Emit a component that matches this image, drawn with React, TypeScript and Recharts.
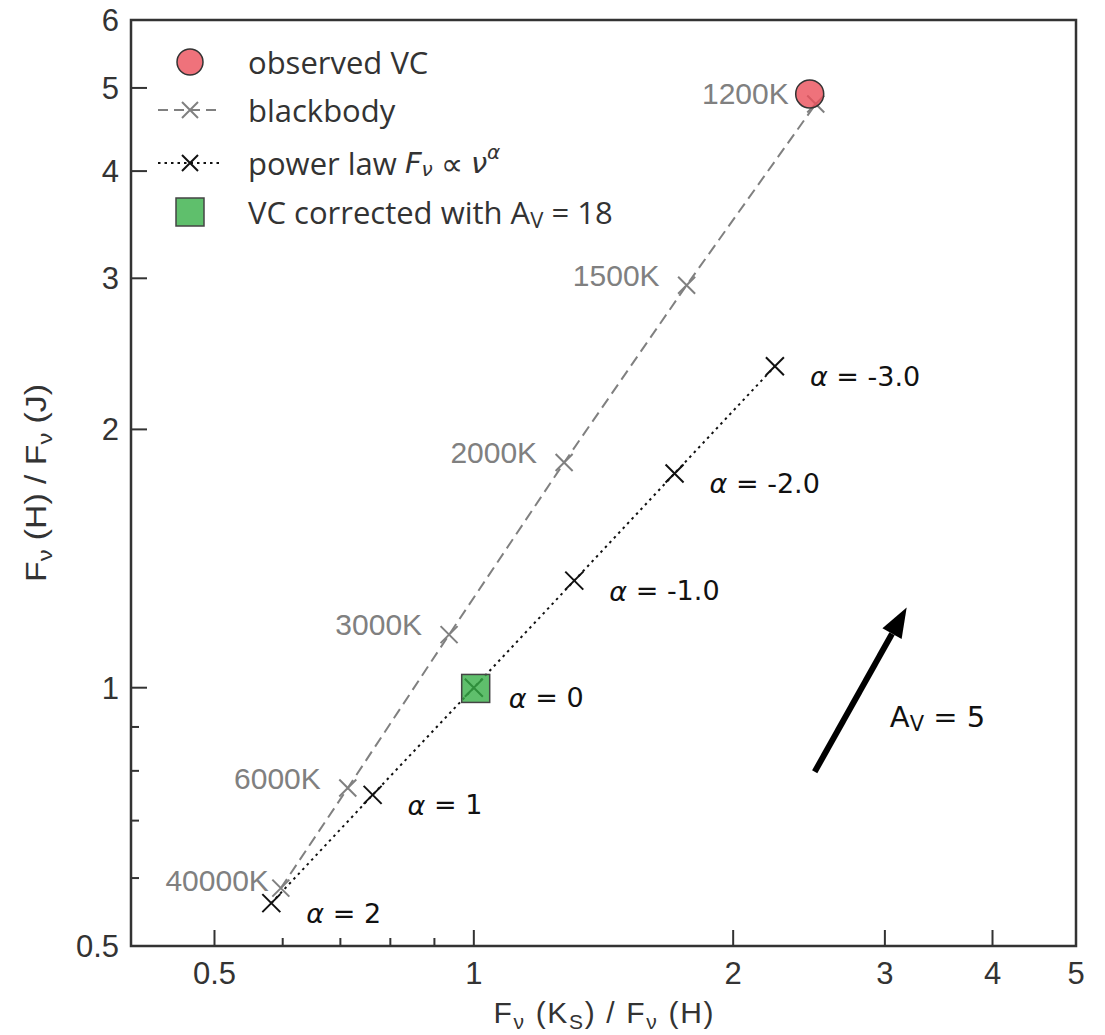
import React from "react";
import {
  ScatterChart,
  Scatter,
  XAxis,
  YAxis,
  ReferenceArea,
  ReferenceLine,
  ReferenceDot,
  Legend,
  Label,
} from "recharts";

// blackbody colours: Ks/H against H/J
const bbLabels = ["40000K", "6000K", "3000K", "2000K", "1500K", "1200K"];
const bbKsH = [0.597, 0.714, 0.936, 1.273, 1.766, 2.494];
const bbHJ = [0.584, 0.764, 1.153, 1.83, 2.945, 4.79];

// power law F_nu ~ nu^alpha
const plAlphas = ["2", "1", "0", "-1.0", "-2.0", "-3.0"];
const plKsH = [0.582, 0.763, 1.0, 1.308, 1.71, 2.236];
const plHJ = [0.561, 0.75, 1.0, 1.333, 1.777, 2.369];

const observedVC = [{ x: 2.454, y: 4.92 }];
const correctedVC = [{ x: 1.005, y: 0.998 }];

// extinction vector, A_V = 5
const avFrom = { x: 2.487, y: 0.798 };
const avTo = { x: 3.18, y: 1.24 };
const avLabelAt = { x: 3.04, y: 0.925 };

const xTicks = [0.5, 0.6, 0.7, 0.8, 0.9, 1, 2, 3, 4, 5];
const xLabelled = [0.5, 1, 2, 3, 4, 5];
const yTicks = [0.5, 0.6, 0.7, 0.8, 0.9, 1, 2, 3, 4, 5, 6];
const yLabelled = [0.5, 1, 2, 3, 4, 5, 6];

const bbData = bbKsH.map((x, i) => ({ x, y: bbHJ[i], label: bbLabels[i] }));
const plData = plKsH.map((x, i) => ({ x, y: plHJ[i], label: plAlphas[i] }));

const W = 1105;
const H = 1035;
const PLOT_LEFT = 131;
const PLOT_TOP = 20;
const PLOT_RIGHT = 1076;
const PLOT_BOTTOM = 946;

const INK = "#333333";
const GRAY = "#808080";
const SANS = "'Liberation Sans', Arial, sans-serif";
const MATH = "'DejaVu Sans', sans-serif";
const LEGEND_FONT = "'Open Sans', sans-serif";

// a few labels sit closer to their marker in the original
const bbLabelShift: Record<string, number> = { "40000K": 15 };

const xPath = (cx: number, cy: number, s: number) =>
  `M${cx - s},${cy - s}L${cx + s},${cy + s}M${cx - s},${cy + s}L${cx + s},${cy - s}`;

const BlackbodyPoint = (props: any) => {
  const { cx, cy, payload } = props;
  const shift = bbLabelShift[payload.label] ?? 0;
  return (
    <g>
      <path d={xPath(cx, cy, 8.5)} stroke={GRAY} strokeWidth={2} fill="none" />
      <text
        x={cx - 27 + shift}
        y={cy - 10 + shift * 0.15}
        textAnchor="end"
        dominantBaseline="central"
        fontFamily={SANS}
        fontSize={30}
        fill={GRAY}
      >
        {payload.label}
      </text>
    </g>
  );
};

const PowerLawPoint = (props: any) => {
  const { cx, cy, payload } = props;
  return (
    <g>
      <path d={xPath(cx, cy, 9)} stroke="#111" strokeWidth={2} fill="none" />
      <text
        x={cx + 35}
        y={cy + 10}
        dominantBaseline="central"
        fontFamily={MATH}
        fontSize={27}
        fill="#111"
      >
        <tspan fontStyle="italic">α</tspan>
        {` = ${payload.label}`}
      </text>
    </g>
  );
};

const ObservedPoint = (props: any) => (
  <circle
    cx={props.cx}
    cy={props.cy}
    r={14}
    fill="#eb4f5a"
    fillOpacity={0.8}
    stroke={INK}
    strokeWidth={1.5}
  />
);

const CorrectedPoint = (props: any) => (
  <rect
    x={props.cx - 14}
    y={props.cy - 14}
    width={28}
    height={28}
    fill="#37af47"
    fillOpacity={0.8}
    stroke="#444"
    strokeWidth={1.5}
  />
);

const XTick = (props: any) => {
  const { x, payload } = props;
  const major = xLabelled.includes(payload.value);
  return (
    <g>
      <line
        x1={x}
        x2={x}
        y1={PLOT_BOTTOM}
        y2={PLOT_BOTTOM - (major ? 16 : 8)}
        stroke={INK}
        strokeWidth={2}
      />
      {major && (
        <text x={x} y={PLOT_BOTTOM + 38} textAnchor="middle" fontFamily={SANS} fontSize={31} fill={INK}>
          {payload.value}
        </text>
      )}
    </g>
  );
};

const YTick = (props: any) => {
  const { y, payload } = props;
  const major = yLabelled.includes(payload.value);
  return (
    <g>
      <line
        x1={PLOT_LEFT}
        x2={PLOT_LEFT + (major ? 16 : 8)}
        y1={y}
        y2={y}
        stroke={INK}
        strokeWidth={2}
      />
      {major && (
        <text x={PLOT_LEFT - 12} y={y + 11} textAnchor="end" fontFamily={SANS} fontSize={31} fill={INK}>
          {payload.value}
        </text>
      )}
    </g>
  );
};

const XTitle = (props: any) => {
  const { x, width } = props.viewBox;
  return (
    <text
      x={x + width / 2}
      y={1023}
      textAnchor="middle"
      fontFamily={SANS}
      fontSize={30}
      fill={INK}
      textLength={220}
      lengthAdjust="spacing"
    >
      F<tspan dy={6} fontSize={21}>ν</tspan>
      <tspan dy={-6}> (K</tspan>
      <tspan dy={6} fontSize={21}>S</tspan>
      <tspan dy={-6}>) / F</tspan>
      <tspan dy={6} fontSize={21}>ν</tspan>
      <tspan dy={-6}> (H)</tspan>
    </text>
  );
};

const YTitle = (props: any) => {
  const { y, height } = props.viewBox;
  const cy = y + height / 2;
  return (
    <text
      x={46}
      y={cy}
      transform={`rotate(-90 46 ${cy})`}
      textAnchor="middle"
      fontFamily={SANS}
      fontSize={30}
      fill={INK}
      textLength={198}
      lengthAdjust="spacingAndGlyphs"
    >
      F<tspan dy={6} fontSize={21}>ν</tspan>
      <tspan dy={-6}> (H) / F</tspan>
      <tspan dy={6} fontSize={21}>ν</tspan>
      <tspan dy={-6}> (J)</tspan>
    </text>
  );
};

const Arrow = (props: any) => {
  const { x1, y1, x2, y2 } = props;
  const ang = Math.atan2(y2 - y1, x2 - x1);
  const len = 30;
  const half = 11;
  const bx = x2 - len * Math.cos(ang);
  const by = y2 - len * Math.sin(ang);
  const px = -Math.sin(ang) * half;
  const py = Math.cos(ang) * half;
  return (
    <g>
      <line x1={x1} y1={y1} x2={bx} y2={by} stroke="#000" strokeWidth={6} />
      <path d={`M${x2},${y2}L${bx + px},${by + py}L${bx - px},${by - py}Z`} fill="#000" />
    </g>
  );
};

const AvLabel = (props: any) => (
  <text x={props.cx} y={props.cy} dominantBaseline="central" fontFamily={MATH} fontSize={29} fill="#111">
    A<tspan dy={7} fontSize={21}>V</tspan>
    <tspan dy={-7}> = 5</tspan>
  </text>
);

const LegendBox = () => {
  const rowY = [25, 73, 126, 175];
  const mx = 40;
  const tx = 98;
  const textProps = { fontFamily: LEGEND_FONT, fontSize: 31, fill: INK, dominantBaseline: "central" as const };
  return (
    <svg width={560} height={210} style={{ display: "block" }}>
      <circle cx={mx} cy={rowY[0]} r={13} fill="#eb4f5a" fillOpacity={0.8} stroke={INK} strokeWidth={1.5} />
      <text x={tx} y={rowY[0]} {...textProps}>observed VC</text>

      <line x1={8} x2={72} y1={rowY[1]} y2={rowY[1]} stroke={GRAY} strokeWidth={2} strokeDasharray="10 6" />
      <path d={xPath(mx, rowY[1], 8)} stroke={GRAY} strokeWidth={2} fill="none" />
      <text x={tx} y={rowY[1]} {...textProps}>blackbody</text>

      <line x1={8} x2={72} y1={rowY[2]} y2={rowY[2]} stroke="#111" strokeWidth={2} strokeDasharray="2.5 4" />
      <path d={xPath(mx, rowY[2], 8)} stroke="#111" strokeWidth={2} fill="none" />
      <text x={tx} y={rowY[2]} {...textProps}>
        power law <tspan fontStyle="italic" fontFamily={MATH} fontSize={29}>F</tspan>
        <tspan dy={6} fontSize={20} fontStyle="italic" fontFamily={MATH}>ν</tspan>
        <tspan dy={-6}> ∝ </tspan>
        <tspan fontStyle="italic" fontFamily={MATH} fontSize={29}>ν</tspan>
        <tspan dy={-11} fontSize={20} fontStyle="italic" fontFamily={MATH}>α</tspan>
      </text>

      <rect x={mx - 14} y={rowY[3] - 14} width={28} height={28} fill="#37af47" fillOpacity={0.8} stroke="#444" strokeWidth={1.5} />
      <text x={tx} y={rowY[3]} {...textProps}>
        VC corrected with A<tspan dy={7} fontSize={22}>V</tspan>
        <tspan dy={-7}> = 18</tspan>
      </text>
    </svg>
  );
};

export default function App() {
  return (
    <div style={{ position: "absolute", left: 0, top: 0, width: W, height: H, background: "#fff" }}>
      <ScatterChart
        width={W}
        height={H}
        margin={{ top: PLOT_TOP, right: W - PLOT_RIGHT, left: 0, bottom: 0 }}
      >
        <XAxis
          type="number"
          dataKey="x"
          scale="log"
          domain={[0.4, 5]}
          allowDataOverflow
          ticks={xTicks}
          interval={0}
          axisLine={false}
          tickLine={false}
          height={H - PLOT_BOTTOM}
          tick={XTick}
        >
          <Label content={XTitle} />
        </XAxis>
        <YAxis
          type="number"
          dataKey="y"
          scale="log"
          domain={[0.5, 6]}
          allowDataOverflow
          ticks={yTicks}
          interval={0}
          axisLine={false}
          tickLine={false}
          width={PLOT_LEFT}
          tick={YTick}
        >
          <Label content={YTitle} />
        </YAxis>
        <ReferenceArea x1={0.4} x2={5} y1={0.5} y2={6} fill="none" stroke={INK} strokeWidth={2.5} />
        <Legend
          layout="vertical"
          align="center"
          verticalAlign="middle"
          wrapperStyle={{ top: 37, left: 150, width: 560, height: 210 }}
          content={LegendBox}
        />
        <Scatter
          name="blackbody"
          data={bbData}
          fill={GRAY}
          line={{ stroke: GRAY, strokeWidth: 2, strokeDasharray: "11 6" }}
          shape={BlackbodyPoint}
          isAnimationActive={false}
        />
        <Scatter
          name="power law"
          data={plData}
          fill="#111"
          line={{ stroke: "#111", strokeWidth: 2, strokeDasharray: "2.5 4" }}
          shape={PowerLawPoint}
          isAnimationActive={false}
        />
        <Scatter name="observed VC" data={observedVC} fill="#eb4f5a" shape={ObservedPoint} isAnimationActive={false} />
        <Scatter name="VC corrected" data={correctedVC} fill="#37af47" shape={CorrectedPoint} isAnimationActive={false} />
        <ReferenceLine segment={[avFrom, avTo]} shape={Arrow} ifOverflow="visible" />
        <ReferenceDot x={avLabelAt.x} y={avLabelAt.y} r={0} shape={AvLabel} ifOverflow="visible" />
      </ScatterChart>
    </div>
  );
}
